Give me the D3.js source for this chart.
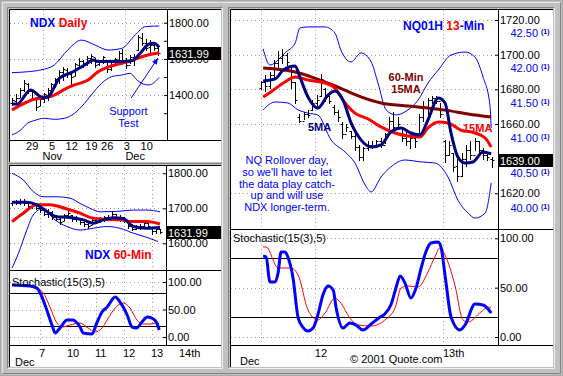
<!DOCTYPE html>
<html>
<head>
<meta charset="utf-8">
<script src="https://cdn.jsdelivr.net/npm/d3@7"></script>
<style>
  body { margin: 0; background: #c0c0c0; }
  text { font-family: Arial, "Liberation Sans", sans-serif; }
</style>
</head>
<body>
<div id="container"></div>
<script>
/* CONSTANTS AND GLOBALS */
const width = 563, height = 376;

/* DATA : NDX daily */
const dailyTicks = [5, 10, 15, 20, 24, 29, 34];
const dailyTickLabels = ["29", "5", "12", "19", "26", "3", "10"];
const dailyMonthStart = [8, 29];
const dailyMonthLabels = ["Nov", "Dec"];
const dailyPriceLabels = [1800, 1600, 1400];
const dailyHigh = [1385,1405,1440,1483,1465,1430,1392,1390,1412,1437,1468,1495,1540,1557,1550,1530,1578,1605,1595,1615,1625,1606,1596,1614,1588,1596,1605,1642,1652,1605,1620,1625,1732,1742,1712,1702,1695,1668];
const dailyLow  = [1345,1360,1390,1420,1410,1372,1318,1345,1362,1375,1418,1445,1465,1485,1502,1455,1510,1548,1556,1566,1578,1556,1566,1578,1530,1538,1566,1585,1576,1548,1575,1565,1648,1676,1650,1632,1650,1622];
const dailyOpen = [1355,1370,1385,1430,1460,1425,1385,1340,1378,1400,1430,1458,1490,1528,1540,1515,1505,1568,1588,1575,1605,1612,1570,1590,1595,1545,1585,1596,1630,1590,1568,1610,1650,1715,1690,1665,1675,1660];
const dailyClose= [1372,1385,1430,1465,1420,1380,1335,1380,1405,1430,1460,1488,1530,1545,1520,1500,1570,1590,1575,1605,1615,1565,1590,1608,1545,1585,1598,1632,1585,1565,1610,1600,1720,1690,1660,1675,1660,1631.99];
const daily5MA  = [[0,1351],[1.3,1351],[4.7,1428],[7.7,1388],[9,1388],[10.7,1443],[12,1493],[15,1524],[18.4,1566],[20.6,1594],[21.8,1585],[25.3,1585],[30.4,1590],[32.5,1631],[34.7,1682],[35.9,1686],[37.3,1664]];
const daily15MA = [[0,1318],[2.2,1345],[5.6,1377],[8.2,1386],[10.7,1400],[13.3,1432],[15.8,1456],[19.3,1483],[21.8,1529],[23.5,1548],[26.1,1566],[29.5,1585],[32.9,1612],[37.3,1634]];
const dailyUpper = [[0,1524],[3.9,1529],[7.3,1539],[10.7,1566],[14.1,1649],[17.6,1704],[21,1677],[24.4,1649],[27.8,1658],[31.2,1732],[33.8,1778],[37.3,1782]];
const dailyLower = [[0,1180],[2.2,1207],[3.9,1244],[5.6,1259],[8.2,1272],[10.7,1266],[13.3,1272],[15.8,1299],[18.4,1355],[20.1,1401],[22.7,1465],[25.3,1502],[27.8,1511],[29.9,1520],[31.7,1483],[32.9,1465],[34.7,1456],[37.3,1498]];
const dailyLast = 1631.99;

/* DATA : NDX 60-min */
const hourDayStart = [7, 14, 21, 28, 35, 42];
const hourDayLabels = ["7", "10", "11", "12", "13", "14th"];
const hourPriceLabels = [1800, 1700, 1600];
const hourHigh = [1722,1724,1728,1726,1720,1716,1714,1706,1702,1698,1692,1682,1676,1685,1695,1682,1678,1672,1668,1662,1670,1674,1676,1678,1680,1690,1684,1680,1676,1664,1656,1652,1655,1662,1660,1648,1646,1642];
const hourLow  = [1710,1712,1713,1710,1705,1702,1697,1690,1680,1675,1670,1666,1656,1668,1676,1665,1664,1655,1650,1645,1655,1660,1662,1664,1666,1672,1668,1664,1660,1645,1638,1640,1642,1650,1646,1628,1630,1630];
const hourOpen = [1714,1718,1716,1722,1714,1708,1712,1700,1694,1684,1690,1674,1670,1664,1680,1680,1670,1672,1660,1656,1652,1666,1670,1668,1674,1672,1684,1676,1672,1664,1650,1642,1648,1650,1658,1646,1634,1640];
const hourClose= [1718,1716,1722,1714,1708,1712,1700,1694,1684,1690,1674,1670,1662,1680,1688,1670,1672,1660,1656,1650,1666,1670,1668,1674,1670,1684,1676,1672,1664,1650,1642,1648,1650,1658,1650,1634,1640,1632];
const hour5MA  = [[0,1717],[3.7,1717],[6.2,1710],[8.7,1691],[11.2,1676],[14.5,1674],[17.8,1667],[20.3,1657],[22.8,1667],[25.3,1673],[27.8,1671],[30.3,1648],[33.7,1643],[37,1645]];
const hour15MA = [[0,1662],[2.8,1686],[6.2,1710],[9.5,1710],[13.7,1698],[17,1686],[19.5,1674],[22.8,1669],[27,1667],[30.3,1662],[33.7,1662],[37,1655]];
const hourUpper = [[0,1800],[2.8,1781],[5.3,1748],[7.8,1733],[11.2,1733],[14.5,1729],[17,1714],[19.5,1700],[22,1690],[26.2,1691],[30.3,1695],[33.7,1695],[37,1690]];
const hourLower = [[0,1529],[1.6,1571],[3.7,1638],[5.3,1681],[7.8,1700],[10.3,1671],[13.7,1648],[17,1638],[20.3,1643],[23.7,1648],[27,1643],[30.3,1629],[33.7,1617],[36.5,1605]];
const hourStochK = [[0,94.5],[4.5,92.7],[6.2,89],[7.5,72.7],[8.7,49],[10,21.8],[10.8,7.3],[12,16.4],[13.8,31],[15.2,31],[17,18.2],[17.8,7.3],[20,5.5],[21.2,25.5],[22.5,45.5],[23.8,54.5],[25.8,72.7],[27,63.6],[28.8,40],[30,18.2],[31.2,16.4],[32.5,27.3],[33.8,36.4],[35,34.5],[36.2,25.5],[36.8,12.7]];
const hourStochD = [[0,96.4],[5.2,92.7],[7.8,80],[9.5,54.5],[10.8,31],[12.5,18.2],[14.5,21.8],[17,25.5],[19,16.4],[20.8,9.1],[22.5,16.4],[23.8,31],[25.8,52.7],[27.8,61.8],[29.5,52.7],[31.2,31],[32.8,23.6],[34.5,23.6],[36.5,27.3]];

/* DATA : NQ01H 13-min */
const minDayStart = [12.6, 42.6];
const minDayLabels = ["12", "13th"];
const minPriceLabels = [1720, 1700, 1680, 1660, 1620];
const minAltLabels = [42.5, 42.0, 41.5, 41.0, 40.5, 40.0];
const minHigh = [1685,1688,1690,1697,1702,1703,1701,1694,1684,1666,1667,1668,1674,1677,1689,1681,1676,1671,1668,1661,1660,1656,1655,1648,1647,1650,1650,1651,1652,1655,1664,1667,1664,1658,1656,1655,1654,1666,1673,1675,1676,1676,1672,1651,1650,1643,1640,1643,1648,1650,1652,1650,1646,1644,1641];
const minLow  = [1680,1679,1681,1687,1692,1695,1694,1681,1672,1661,1663,1664,1668,1670,1676,1673,1672,1666,1662,1652,1656,1652,1645,1639,1639,1645,1646,1647,1647,1649,1655,1656,1657,1650,1648,1646,1647,1654,1662,1666,1672,1672,1664,1638,1642,1633,1627,1630,1636,1640,1645,1644,1640,1639,1635];
const minOpen = [1681,1684,1682,1688,1695,1698,1700,1694,1684,1664,1662,1666,1668,1672,1676,1680,1676,1670,1667,1660,1654,1656,1653,1647,1641,1646,1648,1647,1650,1648,1654,1662,1658,1658,1652,1650,1652,1654,1664,1670,1674,1675,1673,1650,1642,1643,1636,1630,1640,1645,1642,1650,1645,1642,1640];
const minClose= [1684,1682,1688,1695,1698,1700,1696,1684,1674,1662,1666,1665,1672,1674,1686,1676,1673,1667,1664,1654,1658,1653,1647,1641,1646,1648,1647,1650,1648,1654,1662,1658,1660,1652,1650,1652,1650,1664,1670,1674,1675,1673,1666,1642,1648,1635,1630,1640,1645,1642,1650,1645,1642,1641,1639];
const min60MA15 = [[0.5,1692.3],[8,1690],[12.6,1686.5],[18,1681.3],[23.4,1675.6],[28.1,1672.1],[34.4,1670.4],[39.1,1669.2],[43.1,1668],[48.5,1665.8],[53.9,1664]];
const min15MA = [[0.5,1675.6],[2.3,1678.5],[5.6,1684.2],[8,1687.1],[11,1685.4],[15,1683.6],[17.3,1680.8],[19.2,1673.8],[22,1666.3],[25.1,1662.9],[28.1,1658.3],[31.4,1654.8],[34.4,1653.1],[37.2,1652.5],[39.1,1657.7],[41.5,1661.1],[43.8,1660.6],[46.8,1656.5],[50.1,1654.8],[52.5,1651.9],[53.9,1646.7]];
const min5MA = [[0.5,1684.8],[3.3,1686],[5.2,1691.1],[8,1693.5],[9.1,1687.1],[11,1675.6],[13.3,1669.2],[15.7,1676.7],[17.3,1679],[19.2,1673.8],[21.1,1660.6],[23.4,1650.8],[25.8,1646.7],[28.1,1647.9],[30.4,1655.4],[32.8,1657.7],[35.1,1654.8],[37.2,1653.6],[39.1,1662.3],[41.5,1675],[43.1,1672.1],[44.5,1654.8],[46.1,1641],[47.8,1637.5],[49.6,1638.1],[52,1643.8],[53.9,1642.7]];
const minUpper = [[0.5,1703.3],[2.1,1694],[4,1696.9],[5.6,1701],[8,1706.7],[9.1,1715.4],[11,1716],[15,1716],[17.3,1712.5],[18.7,1702.7],[21.1,1695.8],[23.4,1701],[25.8,1695.8],[27.4,1683.6],[29.3,1668.1],[31.6,1665.2],[34.4,1668.1],[36.8,1673.8],[39.1,1683.6],[41.5,1691.1],[44.5,1699.8],[47.8,1701.5],[50.1,1698.6],[52,1687.1],[53.6,1671],[53.9,1657.7]];
const minLower = [[0.5,1668.1],[3.3,1672.7],[6.3,1672.1],[8.7,1668.1],[11,1666.3],[13.3,1665.2],[16.4,1650.8],[19.7,1643.8],[22,1637.5],[24.4,1624.8],[25.8,1620.8],[28.1,1629.4],[30.4,1635.2],[33.7,1639.2],[37.5,1638.1],[40.7,1637.5],[43.8,1629.4],[46.1,1616.1],[48.5,1608.6],[50.1,1605.7],[52.5,1608.6],[53.9,1625.9]];
const minStochK = [[0.5,82],[1.2,81],[2.1,55.7],[3.3,55.7],[4,64.8],[4.7,86.1],[5.6,86.1],[6.3,81],[7.5,59.8],[8.7,19.3],[9.8,10.1],[11,6.1],[12.2,9.1],[13.3,22.3],[14.5,42.6],[15.7,51.7],[16.9,47.6],[17.6,29.4],[19.2,9.1],[20.8,14.2],[22.2,12.2],[23.9,7.1],[25.8,13.2],[27.9,20.3],[29,23.3],[30.4,32.4],[31.6,49.6],[32.6,61.8],[33.7,54.7],[35.1,39.5],[36.3,49.6],[37.5,69.9],[38.6,86.1],[39.8,95.2],[41.5,96.3],[42.2,90.2],[43.3,55.7],[44.5,20.3],[46.6,7.1],[47.8,12.2],[50.1,33.4],[52,32.4],[53.9,24.3]];
const minStochD = [[0.5,91.2],[1.2,91.2],[4,69.9],[7,69.9],[8.7,62.8],[11,27.4],[13.3,17.2],[15,24.3],[17.3,39.5],[18.7,34.4],[20.8,19.3],[22.7,12.2],[25.8,11.1],[29,17.2],[31.4,29.4],[32.8,49.6],[34.4,51.7],[36.8,50.7],[39.1,65.9],[40.7,81],[41.9,90.2],[43.3,81],[45.4,52.7],[47.3,17.2],[48.5,15.2],[51.5,25.3],[53.2,30.4],[53.9,29.4]];
const minLast = 1639.00;

const stochLabels = [100, 50, 0];
const stochBands = [80, 20];
const noteLines = ["NQ Rollover day,", "so we'll have to let", "the data play catch-", "up and will use", "NDX longer-term."];

/* SVG */
const svg = d3.select("#container")
  .append("svg")
  .attr("width", width)
  .attr("height", height)
  .style("display", "block")
  .style("background-color", "#c0c0c0")

// outer frame
svg.append("rect").attr("x", 0.5).attr("y", 0.5).attr("width", width - 1).attr("height", height - 1)
  .attr("fill", "none").attr("stroke", "#a8a8a8")
svg.append("path").attr("d", `M2.5,${height - 3}V2.5H${width - 3}`).attr("fill", "none").attr("stroke", "#e8e8e8")
svg.append("path").attr("d", `M2.5,${height - 2.5}H${width - 2.5}V2.5`).attr("fill", "none").attr("stroke", "#808080")

// sunken white panel
function panel(x0, y0, x1, y1) {
  svg.append("rect").attr("x", x0).attr("y", y0).attr("width", x1 - x0).attr("height", y1 - y0).attr("fill", "#fff")
  svg.append("path").attr("d", `M${x0 - 2.5},${y1 + 1}V${y0 - 2.5}H${x1 + 1}`).attr("fill", "none").attr("stroke", "#808080")
  svg.append("path").attr("d", `M${x0 - 0.5},${y1}V${y0 - 0.5}H${x1}`).attr("fill", "none").attr("stroke", "#000")
  svg.append("path").attr("d", `M${x0 - 2},${y1 + 1.5}H${x1 + 1.5}V${y0 - 2}`).attr("fill", "none").attr("stroke", "#f0f0f0")
}

function clip(id, x0, y0, x1, y1) {
  svg.append("clipPath").attr("id", id).append("rect")
    .attr("x", x0).attr("y", y0).attr("width", x1 - x0).attr("height", y1 - y0)
  return svg.append("g").attr("clip-path", `url(#${id})`)
}

function hLine(g, y, x0, x1, color, dash) {
  g.append("line").attr("x1", x0).attr("x2", x1).attr("y1", Math.round(y) + 0.5).attr("y2", Math.round(y) + 0.5)
    .attr("stroke", color).attr("stroke-dasharray", dash)
}
function vLine(g, x, y0, y1, color, dash) {
  g.append("line").attr("x1", Math.round(x) + 0.5).attr("x2", Math.round(x) + 0.5).attr("y1", y0).attr("y2", y1)
    .attr("stroke", color).attr("stroke-dasharray", dash)
}

function drawBars(g, x, y, hi, lo, op, cl) {
  const bars = hi.map((h, i) => ({ i, h, l: lo[i], o: op[i], c: cl[i] }))
  g.selectAll(null)
    .data(bars)
    .join("path")
    .attr("d", d => {
      const xx = Math.round(x(d.i)) + 0.5
      return `M${xx},${Math.round(y(d.h))}V${Math.round(y(d.l)) + 1}` +
        `M${xx - 2},${Math.round(y(d.o)) + 0.5}H${xx}M${xx},${Math.round(y(d.c)) + 0.5}H${xx + 2}`
    })
    .attr("fill", "none")
    .attr("stroke", "#000")
}

function drawLine(g, x, y, pts, color, w) {
  g.append("path")
    .datum(pts)
    .attr("d", d3.line().x(d => x(d[0])).y(d => y(d[1])).curve(d3.curveMonotoneX))
    .attr("fill", "none")
    .attr("stroke", color)
    .attr("stroke-width", w)
    .attr("stroke-linejoin", "round")
}

function priceAxis(x, y, vals, fmt) {
  svg.append("g")
    .attr("transform", `translate(${x + 0.5},0)`)
    .call(d3.axisRight(y).tickValues(vals).tickSize(-3).tickPadding(2).tickFormat(d3.format(fmt)))
    .call(a => a.select(".domain").remove())
    .attr("font-family", "Arial")
    .attr("font-size", 11)
    .call(a => a.selectAll("text").attr("fill", "#000"))
}

function lastBox(x0, x1, yc, label) {
  svg.append("rect").attr("x", x0).attr("y", Math.round(yc) - 6).attr("width", x1 - x0).attr("height", 13).attr("fill", "#000")
  svg.append("text").attr("x", x0 + 2).attr("y", Math.round(yc) + 4.5).attr("fill", "#fff").attr("font-size", 11).text(label)
}

function title(x, y, parts) {
  const t = svg.append("text").attr("x", x).attr("y", y).attr("font-size", 12).attr("font-weight", "bold")
  parts.forEach(p => t.append("tspan").attr("fill", p[1]).text(p[0]))
}

/* PANELS */
panel(10, 10, 221, 162)
panel(10, 166, 221, 367)
panel(231, 10, 553, 367)

/* ---------- NDX DAILY ---------- */
const xD = d3.scaleLinear().domain([0, 37]).range([12, 158])
const yD = d3.scaleLinear().domain([1300, 1800]).range([113.2, 22.7])
const gD = clip("cD", 10, 10, 167, 140)

dailyPriceLabels.forEach(v => hLine(gD, yD(v), 10, 167, "#a0a0a0", "1,3"))
dailyMonthStart.forEach(v => vLine(gD, xD(v) - 1, 10, 140, "#a0a0a0", "1,3"))

title(30, 27, [["NDX ", "#0000ff"], ["Daily", "#ff0000"]])

drawLine(gD, xD, yD, dailyUpper, "#0000ff", 1)
drawLine(gD, xD, yD, dailyLower, "#0000ff", 1)
drawBars(gD, xD, yD, dailyHigh, dailyLow, dailyOpen, dailyClose)
drawLine(gD, xD, yD, daily15MA, "#ff0000", 3)
drawLine(gD, xD, yD, daily5MA, "#000080", 3)

// support test note and arrow
svg.append("text").attr("x", xD(29.5)).attr("y", 115).attr("text-anchor", "middle").attr("font-size", 11).attr("fill", "#0000ff").text("Support")
svg.append("text").attr("x", xD(29.5)).attr("y", 127).attr("text-anchor", "middle").attr("font-size", 11).attr("fill", "#0000ff").text("Test")
const a0 = [xD(30.2), yD(1384)], a1 = [xD(37), yD(1605)]
svg.append("line").attr("x1", a0[0]).attr("y1", a0[1]).attr("x2", a1[0]).attr("y2", a1[1]).attr("stroke", "#0000ff")
const ang = Math.atan2(a1[1] - a0[1], a1[0] - a0[0])
svg.append("path")
  .attr("d", `M${a1[0]},${a1[1]}L${a1[0] - 7 * Math.cos(ang - 0.4)},${a1[1] - 7 * Math.sin(ang - 0.4)}L${a1[0] - 7 * Math.cos(ang + 0.4)},${a1[1] - 7 * Math.sin(ang + 0.4)}Z`)
  .attr("fill", "#0000ff")

vLine(svg, 166.5, 10, 140, "#000")
hLine(svg, 139.5, 10, 221, "#000")
priceAxis(166.5, yD, dailyPriceLabels, ".2f")
svg.append("g").attr("transform", "translate(167,0)")
  .call(d3.axisRight(yD).tickValues([1700, 1500, 1300]).tickSize(-3).tickFormat(""))
  .call(a => a.select(".domain").remove())
lastBox(167, 221, yD(dailyLast), dailyLast.toFixed(2))

svg.append("g")
  .attr("transform", "translate(0,140)")
  .call(d3.axisBottom(xD).tickValues(dailyTicks).tickSize(0).tickPadding(2).tickFormat((d, i) => dailyTickLabels[i]))
  .call(a => a.select(".domain").remove())
  .attr("font-family", "Arial").attr("font-size", 11)
  .call(a => a.selectAll("text").attr("fill", "#000"))
dailyMonthStart.forEach((v, i) => {
  svg.append("text").attr("x", xD(v) - 1).attr("y", 160).attr("font-size", 11).text(dailyMonthLabels[i])
})

/* ---------- NDX 60-MIN ---------- */
const xH = d3.scaleLinear().domain([0, 37]).range([12, 160])
const yH = d3.scaleLinear().domain([1600, 1800]).range([243.3, 173.3])
const yHS = d3.scaleLinear().domain([0, 100]).range([337, 282])
const gH = clip("cH", 10, 166, 166, 270)
const gHS = clip("cHS", 10, 270, 166, 345)

hourDayStart.forEach(v => { vLine(gH, xH(v), 166, 270, "#a0a0a0", "1,3"); vLine(gHS, xH(v), 270, 345, "#a0a0a0", "1,3") })
hourPriceLabels.forEach(v => hLine(gH, yH(v), 10, 166, "#a0a0a0", "1,3"))

drawLine(gH, xH, yH, hourUpper, "#0000ff", 1)
drawLine(gH, xH, yH, hourLower, "#0000ff", 1)
drawBars(gH, xH, yH, hourHigh, hourLow, hourOpen, hourClose)
drawLine(gH, xH, yH, hour15MA, "#ff0000", 3)
drawLine(gH, xH, yH, hour5MA, "#000080", 3)
title(85, 259, [["NDX ", "#0000ff"], ["60-Min", "#ff0000"]])

stochLabels.forEach(v => hLine(gHS, yHS(v), 10, 166, "#a0a0a0", "1,3"))
stochBands.forEach(v => hLine(gHS, yHS(v), 10, 166, "#000"))
drawLine(gHS, xH, yHS, hourStochD, "#ff0000", 1)
drawLine(gHS, xH, yHS, hourStochK, "#0000ff", 3)
svg.append("text").attr("x", 12).attr("y", 285.5).attr("font-size", 11).text("Stochastic(15(3),5)")

vLine(svg, 165.5, 166, 345, "#000")
hLine(svg, 269.5, 10, 221, "#000")
hLine(svg, 344.5, 10, 221, "#000")
priceAxis(165.5, yH, hourPriceLabels, ".2f")
lastBox(166, 221, yH(dailyLast), dailyLast.toFixed(2))
priceAxis(165.5, yHS, stochLabels, ".2f")

hourDayStart.forEach((v, i) => {
  svg.append("text").attr("x", xH(v) - 1).attr("y", 357).attr("font-size", 11).text(hourDayLabels[i])
})
svg.append("text").attr("x", 15).attr("y", 366).attr("font-size", 11).text("Dec")

/* ---------- NQ01H 13-MIN ---------- */
const xM = d3.scaleLinear().domain([0, 54]).range([261, 491.6])
const yM = d3.scaleLinear().domain([1620, 1720]).range([193.3, 20])
const yAlt = d3.scaleLinear().domain([40, 42.5]).range([208, 33])
const yMS = d3.scaleLinear().domain([0, 100]).range([337, 238.3])
const gM = clip("cM", 231, 10, 498, 229)
const gMS = clip("cMS", 231, 229, 498, 345)

minDayStart.forEach(v => { vLine(gM, xM(v), 10, 229, "#a0a0a0", "1,3"); vLine(gMS, xM(v), 229, 345, "#a0a0a0", "1,3") })
vLine(gM, xM(0), 10, 229, "#a0a0a0", "1,3"); vLine(gMS, xM(0), 229, 345, "#a0a0a0", "1,3")
minPriceLabels.forEach(v => hLine(gM, yM(v), 231, 498, "#a0a0a0", "1,3"))

drawLine(gM, xM, yM, minUpper, "#0000ff", 1)
drawLine(gM, xM, yM, minLower, "#0000ff", 1)
drawBars(gM, xM, yM, minHigh, minLow, minOpen, minClose)
drawLine(gM, xM, yM, min60MA15, "#800000", 3)
drawLine(gM, xM, yM, min15MA, "#ff0000", 3)
drawLine(gM, xM, yM, min5MA, "#000080", 3)

title(403, 30, [["NQ01H ", "#0000ff"], ["13", "#ff0000"], ["-Min", "#0000ff"]])
svg.append("text").attr("x", 406).attr("y", 81).attr("text-anchor", "middle").attr("font-size", 11).attr("font-weight", "bold").attr("fill", "#800000").text("60-Min")
svg.append("text").attr("x", 406).attr("y", 93).attr("text-anchor", "middle").attr("font-size", 11).attr("font-weight", "bold").attr("fill", "#800000").text("15MA")
svg.append("text").attr("x", 308).attr("y", 131).attr("font-size", 11).attr("font-weight", "bold").attr("fill", "#000080").text("5MA")
svg.append("text").attr("x", 463).attr("y", 132).attr("font-size", 11).attr("font-weight", "bold").attr("fill", "#ff0000").text("15MA")
noteLines.forEach((t, i) => {
  svg.append("text").attr("x", 287).attr("y", 164 + i * 11.8).attr("text-anchor", "middle").attr("font-size", 11).attr("fill", "#0000ff").text(t)
})

stochLabels.forEach(v => hLine(gMS, yMS(v), 231, 498, "#a0a0a0", "1,3"))
stochBands.forEach(v => hLine(gMS, yMS(v), 231, 498, "#000"))
drawLine(gMS, xM, yMS, minStochD, "#ff0000", 1)
drawLine(gMS, xM, yMS, minStochK, "#0000ff", 3)
svg.append("text").attr("x", 233).attr("y", 241.5).attr("font-size", 11).text("Stochastic(15(3),5)")

vLine(svg, 497.5, 10, 345, "#000")
hLine(svg, 228.5, 231, 553, "#000")
hLine(svg, 344.5, 231, 553, "#000")
priceAxis(497.5, yM, minPriceLabels, ".2f")
minAltLabels.forEach(v => {
  svg.append("text").attr("x", 538).attr("y", yAlt(v) + 4).attr("text-anchor", "end").attr("font-size", 11).attr("fill", "#0000ff").text(v.toFixed(2))
  svg.append("text").attr("x", 541).attr("y", yAlt(v) + 1).attr("font-size", 7).attr("font-weight", "bold").attr("fill", "#0000ff").text("(1)")
})
lastBox(498, 553, yM(minLast), minLast.toFixed(2))
priceAxis(497.5, yMS, stochLabels, ".2f")

minDayStart.forEach((v, i) => {
  svg.append("text").attr("x", xM(v)).attr("y", 357).attr("font-size", 11).text(minDayLabels[i])
})
svg.append("text").attr("x", 240).attr("y", 365).attr("font-size", 11).text("Dec")
svg.append("text").attr("x", 350).attr("y", 363).attr("font-size", 11).text("© 2001 Quote.com")
</script>
</body>
</html>
